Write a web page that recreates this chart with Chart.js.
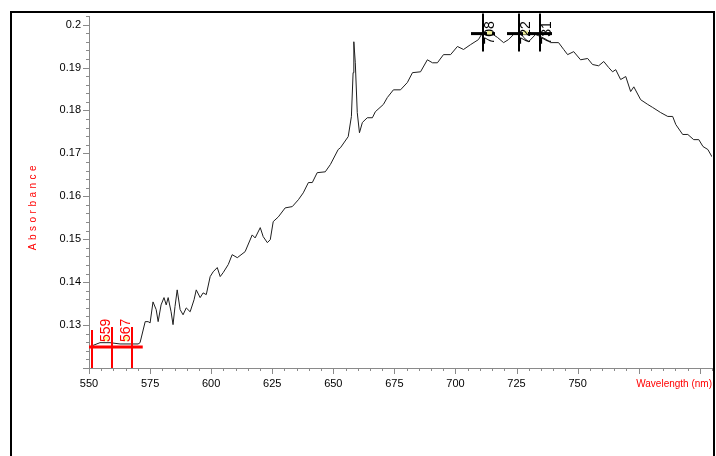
<!DOCTYPE html>
<html>
<head>
<meta charset="utf-8">
<script src="https://cdn.jsdelivr.net/npm/chart.js@4.4.0/dist/chart.umd.min.js"></script>
<style>
html,body{margin:0;padding:0;background:#fff;}
canvas{display:block;}
</style>
</head>
<body>
<canvas id="c" width="716" height="456"></canvas>
<script>
// ---- data ----
const wavelengths = [550.0,554.5,558.6,562.7,566.8,570.1,570.9,573.0,574.2,575.0,576.2,577.5,578.3,579.5,580.7,581.6,582.4,583.6,584.4,585.2,586.1,587.3,588.5,589.8,591.4,593.0,593.9,595.5,596.7,598.0,599.6,600.8,602.5,603.7,604.9,607.0,608.6,610.7,613.9,616.8,618.0,620.1,621.3,623.0,624.2,625.4,627.5,630.3,633.2,635.7,637.7,639.8,641.4,643.4,646.7,648.8,652.0,652.9,656.1,657.4,658.1,658.4,659.0,659.8,660.7,661.9,663.9,666.0,667.2,670.5,672.1,674.6,677.5,680.3,682.4,685.7,688.5,690.6,692.6,695.1,698.0,700.8,703.3,706.1,709.4,711.1,714.3,717.2,719.7,721.7,723.8,726.6,727.9,729.9,732.8,734.8,737.3,738.9,742.2,744.3,745.9,748.4,751.2,754.1,756.1,758.6,760.7,762.7,764.3,765.6,767.6,769.7,771.7,773.0,775.8,778.7,780.7,784.0,786.9,788.9,790.2,793.0,795.1,797.5,799.6,801.3,803.3,805.0];
const absorbance = [0.1249,0.1259,0.1259,0.1256,0.1256,0.1256,0.1259,0.1308,0.1308,0.1305,0.1354,0.1336,0.1308,0.1347,0.1364,0.1347,0.1364,0.1331,0.1301,0.1343,0.1382,0.1336,0.1324,0.1340,0.1331,0.1359,0.1382,0.1364,0.1375,0.1371,0.1413,0.1424,0.1434,0.1413,0.1422,0.1441,0.1464,0.1457,0.1471,0.1510,0.1503,0.1527,0.1506,0.1492,0.1499,0.1541,0.1552,0.1573,0.1576,0.1592,0.1608,0.1632,0.1632,0.1655,0.1657,0.1674,0.1709,0.1713,0.1739,0.1786,0.1888,0.1960,0.1911,0.1795,0.1748,0.1772,0.1783,0.1783,0.1797,0.1814,0.1830,0.1848,0.1848,0.1865,0.1888,0.1890,0.1918,0.1911,0.1911,0.1930,0.1930,0.1949,0.1942,0.1953,0.1965,0.1981,0.1981,0.1970,0.1958,0.1965,0.1977,0.1981,0.1970,0.1960,0.1977,0.1972,0.1965,0.1958,0.1958,0.1942,0.1930,0.1937,0.1918,0.1921,0.1907,0.1904,0.1914,0.1900,0.1890,0.1895,0.1872,0.1879,0.1844,0.1855,0.1825,0.1814,0.1807,0.1795,0.1786,0.1786,0.1767,0.1744,0.1744,0.1732,0.1732,0.1716,0.1709,0.1692];
const xTickValues = [550,575,600,625,650,675,700,725,750];
const yTickValues = [0.13,0.14,0.15,0.16,0.17,0.18,0.19,0.20];
const xTitle = 'Wavelength (nm)';
const yTitle = 'Absorbance';
// red (baseline) cursors
const redCursorNm = [551.2,559.4,567.6];
const redCursorLabels = ['','559','567'];
const redRange = [550,572];
const redLevel = 0.1249;
// black (peak) cursors
const blackCursorNm = [711.1,725.8,734.4];
const blackCursorLabels = ['708','722','731'];
const blackLevel = 0.1979;

const FONT = '"Liberation Sans", Arial, sans-serif';

const decor = {
  id:'decor',
  afterDraw(chart){
    const ctx = chart.ctx;
    const xs = chart.scales.x, ys = chart.scales.y;
    const ca = chart.chartArea;
    ctx.save();
    // outer frame
    ctx.strokeStyle = '#000'; ctx.lineWidth = 2;
    ctx.beginPath();
    ctx.moveTo(11, 460); ctx.lineTo(11, 12); ctx.lineTo(714, 12); ctx.lineTo(714, 460);
    ctx.stroke();
    // axis tick marks
    ctx.strokeStyle = '#8a8a8a'; ctx.lineWidth = 1;
    ctx.beginPath();
    for (let v = 550; v <= 805.001; v += 5) {
      const px = Math.round(xs.getPixelForValue(v)) + 0.5;
      const major = Math.abs(v % 25) < 0.01;
      ctx.moveTo(px, ca.bottom); ctx.lineTo(px, ca.bottom + (major ? 6 : 3));
    }
    for (let k = 0; k <= 41; k++) {
      const v = 0.12 + k * 0.002;
      const py = Math.round(ys.getPixelForValue(v)) + 0.5;
      const major = k % 5 === 0;
      ctx.moveTo(ca.left, py); ctx.lineTo(ca.left - (major ? 6 : 3), py);
    }
    ctx.stroke();

    // titles
    ctx.fillStyle = '#ff0000';
    ctx.font = '10px ' + FONT;
    ctx.textAlign = 'right'; ctx.textBaseline = 'middle';
    ctx.fillText(xTitle, ca.right, 384);
    ctx.save();
    ctx.translate(36, 206);
    ctx.rotate(-Math.PI/2);
    ctx.textAlign = 'center'; ctx.textBaseline = 'alphabetic';
    ctx.font = '10px ' + FONT;
    try { ctx.letterSpacing = '3.5px'; } catch(e) {}
    ctx.fillText(yTitle, 0, 0);
    ctx.restore();

    // red cursors
    const ry = ys.getPixelForValue(redLevel);
    ctx.strokeStyle = '#ff0000';
    ctx.lineWidth = 3;
    ctx.beginPath();
    ctx.moveTo(xs.getPixelForValue(redRange[0]), ry);
    ctx.lineTo(xs.getPixelForValue(redRange[1]), ry);
    ctx.stroke();
    ctx.lineWidth = 2;
    redCursorNm.forEach((nm, i) => {
      const px = Math.round(xs.getPixelForValue(nm));
      ctx.beginPath();
      ctx.moveTo(px, ry - (i === 0 ? 17 : 20)); ctx.lineTo(px, ca.bottom);
      ctx.stroke();
      if (redCursorLabels[i]) {
        ctx.fillStyle = '#ffff99'; ctx.strokeStyle = '#c8b060'; ctx.lineWidth = 1;
        ctx.fillRect(px - 8, ry - 10, 4, 4);
        ctx.strokeStyle = '#ff0000'; ctx.lineWidth = 2;
        ctx.save();
        ctx.translate(px - 2, ry - 5);
        ctx.rotate(-Math.PI/2);
        ctx.font = '14px ' + FONT;
        ctx.fillStyle = '#ff0000';
        ctx.textAlign = 'left'; ctx.textBaseline = 'alphabetic';
        ctx.fillText(redCursorLabels[i], 0, 0);
        ctx.restore();
      }
    });

    // black cursors
    const by = ys.getPixelForValue(blackLevel);
    blackCursorNm.forEach((nm, i) => {
      const px = Math.round(xs.getPixelForValue(nm));
      ctx.strokeStyle = '#000';
      ctx.lineWidth = 3;
      ctx.beginPath();
      ctx.moveTo(px - 12, by); ctx.lineTo(px + 12, by);
      ctx.stroke();
      ctx.lineWidth = 2;
      ctx.beginPath();
      ctx.moveTo(px, by - 20); ctx.lineTo(px, by + 18);
      ctx.stroke();
      if (i < 2) {
        ctx.fillStyle = '#eeee99';
        ctx.fillRect(px + 4, by - 3, 5, 4);
      }
      ctx.save();
      ctx.translate(px + 11, by + 11);
      ctx.rotate(-Math.PI/2);
      ctx.font = '14px ' + FONT;
      ctx.fillStyle = '#000';
      ctx.textAlign = 'left'; ctx.textBaseline = 'alphabetic';
      ctx.fillText(blackCursorLabels[i], 0, 0);
      ctx.restore();
    });
    ctx.restore();
  }
};

new Chart(document.getElementById('c'), {
  type: 'line',
  data: {
    datasets: [{
      data: wavelengths.map((w, i) => ({x: w, y: absorbance[i]})),
      borderColor: '#1e1e1e',
      borderWidth: 1,
      pointRadius: 0,
      tension: 0,
      fill: false
    }]
  },
  options: {
    responsive: false,
    animation: false,
    events: [],
    layout: { padding: { left: 29, right: 4, top: 16, bottom: 48 } },
    plugins: { legend: { display: false }, tooltip: { enabled: false }, title: { display: false } },
    scales: {
      x: {
        type: 'linear', min: 550, max: 805,
        afterBuildTicks: s => { s.ticks = xTickValues.map(v => ({value: v})); },
        afterFit: s => { s.height = 40; },
        grid: { display: false, drawTicks: false },
        border: { display: true, color: '#8a8a8a', width: 1 },
        ticks: { color: '#000', font: { family: FONT, size: 11 }, padding: 9, maxRotation: 0, autoSkip: false,
                 callback: v => String(v) }
      },
      y: {
        type: 'linear', min: 0.12, max: 0.202,
        afterBuildTicks: s => { s.ticks = yTickValues.map(v => ({value: v})); },
        afterFit: s => { s.width = 60; },
        grid: { display: false, drawTicks: false },
        border: { display: true, color: '#8a8a8a', width: 1 },
        ticks: { color: '#000', font: { family: FONT, size: 11 }, padding: 8, autoSkip: false,
                 callback: v => String(+Number(v).toFixed(2)) }
      }
    }
  },
  plugins: [decor]
});
</script>
</body>
</html>
